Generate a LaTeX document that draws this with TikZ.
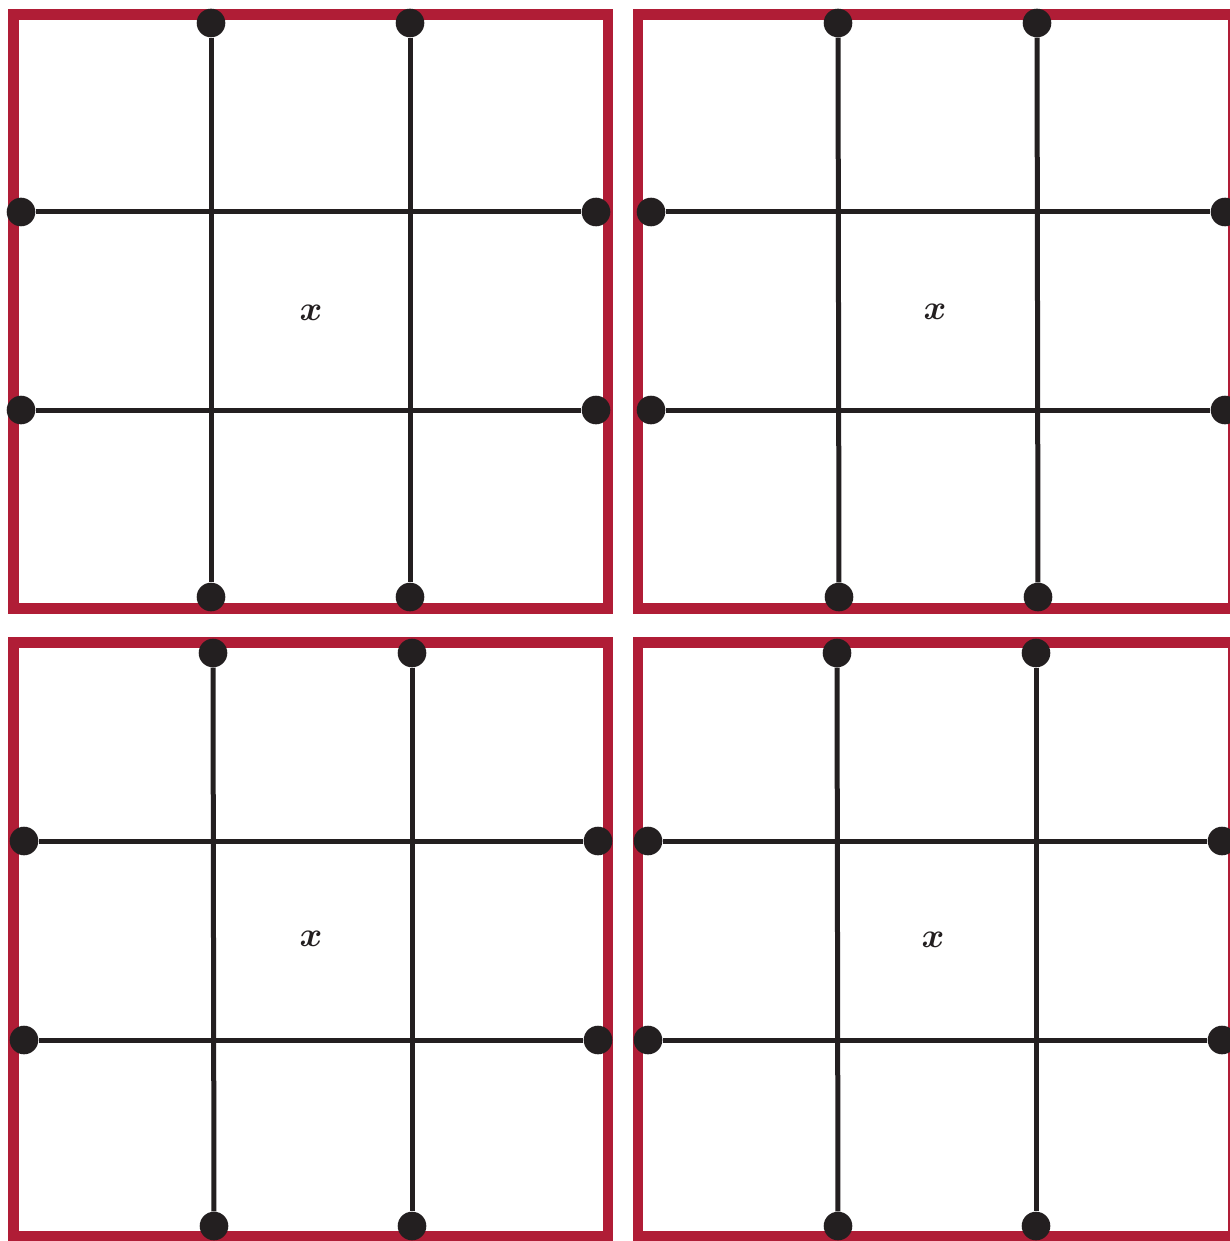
\documentclass[tikz,border=0pt]{standalone}
\begin{document}
\begin{tikzpicture}[x=0.5pt,y=-0.5pt,
  frame/.style={draw=framered,line width=5.35pt},
  wire/.style={draw=ink,line width=2.5pt},
  dot/.style={circle,fill=ink,inner sep=0pt,minimum size=14.3pt},
  xmark/.style={text=ink,font=\fontsize{19}{19}\selectfont\boldmath,inner sep=0pt}
]
\definecolor{framered}{RGB}{176,29,54}
\definecolor{ink}{RGB}{35,31,32}
\useasboundingbox (0,0) rectangle (1230,1241);
\clip (0,0) rectangle (1230,1241);
\fill[white] (0,0) rectangle (1230,1241);
% ---------- panel top-left ----------
\draw[frame] (13.3,14.3) rectangle (608,608.8);
\node[dot] (a1) at (211,23) {};
\node[dot] (a2) at (410,23) {};
\node[dot] (a3) at (211,597) {};
\node[dot] (a4) at (410,597) {};
\node[dot] (a5) at (21,212) {};
\node[dot] (a6) at (21,410) {};
\node[dot] (a7) at (596,212) {};
\node[dot] (a8) at (596,410) {};
\draw[wire] (a1) -- (a3); \draw[wire] (a2) -- (a4);
\draw[wire] (a5) -- (a7); \draw[wire] (a6) -- (a8);
\node[xmark] (ax) at (311,313) {$x$};
% ---------- panel top-right ----------
\draw[frame] (638,14.3) rectangle (1233,608.8);
\node[dot] (b1) at (838,23) {};
\node[dot] (b2) at (1037,23) {};
\node[dot] (b3) at (839,597) {};
\node[dot] (b4) at (1038,597) {};
\node[dot] (b5) at (651,212) {};
\node[dot] (b6) at (651,410) {};
\node[dot] (b7) at (1225,212) {};
\node[dot] (b8) at (1225,410) {};
\draw[wire] (b1) -- (b3); \draw[wire] (b2) -- (b4);
\draw[wire] (b5) -- (b7); \draw[wire] (b6) -- (b8);
\node[xmark] (bx) at (935,312) {$x$};
% ---------- panel bottom-left ----------
\draw[frame] (13.3,642.8) rectangle (608,1236.5);
\node[dot] (c1) at (213,653) {};
\node[dot] (c2) at (412,653) {};
\node[dot] (c3) at (214,1226) {};
\node[dot] (c4) at (412,1226) {};
\node[dot] (c5) at (24,841) {};
\node[dot] (c6) at (24,1040) {};
\node[dot] (c7) at (598,841) {};
\node[dot] (c8) at (598,1040) {};
\draw[wire] (c1) -- (c3); \draw[wire] (c2) -- (c4);
\draw[wire] (c5) -- (c7); \draw[wire] (c6) -- (c8);
\node[xmark] (cx) at (311,939) {$x$};
% ---------- panel bottom-right ----------
\draw[frame] (638,642.8) rectangle (1233,1236.5);
\node[dot] (d1) at (837,653) {};
\node[dot] (d2) at (1036,653) {};
\node[dot] (d3) at (838,1226) {};
\node[dot] (d4) at (1036,1226) {};
\node[dot] (d5) at (648,841) {};
\node[dot] (d6) at (648,1040) {};
\node[dot] (d7) at (1222,841) {};
\node[dot] (d8) at (1222,1040) {};
\draw[wire] (d1) -- (d3); \draw[wire] (d2) -- (d4);
\draw[wire] (d5) -- (d7); \draw[wire] (d6) -- (d8);
\node[xmark] (dx) at (933,940) {$x$};
\end{tikzpicture}
\end{document}
